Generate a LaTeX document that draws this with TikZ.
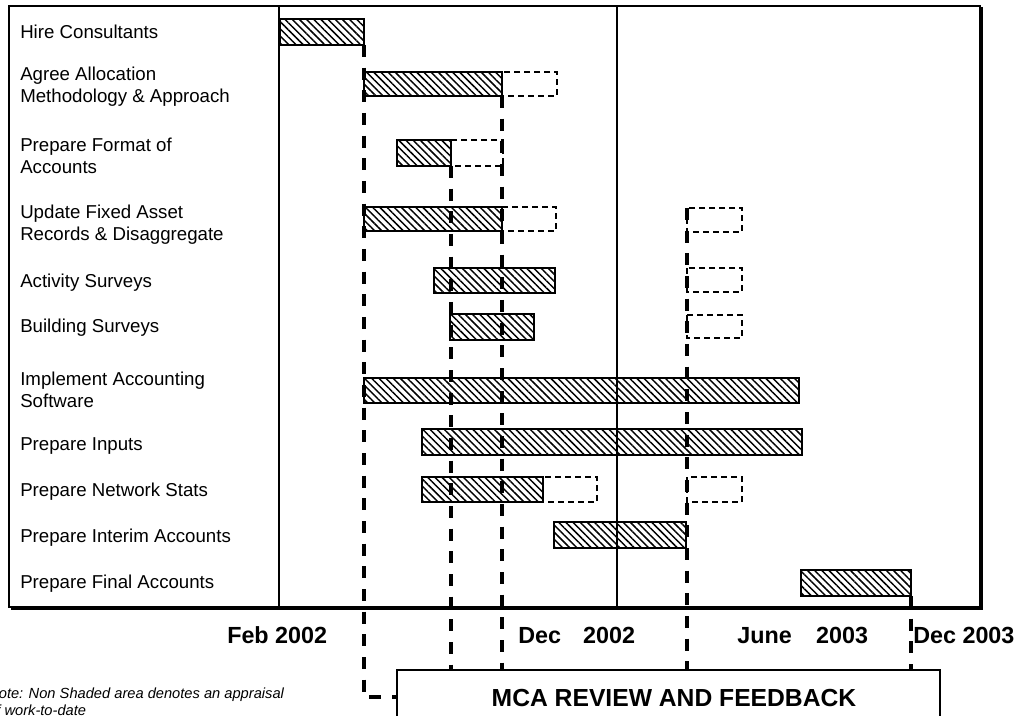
\documentclass[tikz,border=0pt]{standalone}
\usepackage{fontspec}
\setmainfont{Liberation Sans}
\usetikzlibrary{patterns.meta}
\begin{document}
\begin{tikzpicture}[x=0.75pt,y=-0.75pt,
  hatch/.style={draw=black, line width=0.9pt, pattern={Lines[angle=-45,distance=3.8pt,line width=1.1pt]}},
  plan/.style={draw=black, line width=1.4pt, dash pattern=on 4.5pt off 3pt},
  link/.style={draw=black, line width=3pt, dash pattern=on 9pt off 8pt},
  task/.style={anchor=west, align=left, inner sep=0pt, font=\fontsize{14}{16.5}\selectfont},
  axislabel/.style={anchor=west, inner sep=0pt, font=\bfseries\fontsize{17.5}{20}\selectfont},
  frameline/.style={draw=black, line width=1.5pt},
  notetext/.style={anchor=west, align=left, inner sep=0pt, font=\itshape\fontsize{11}{12.75}\selectfont}]
\useasboundingbox (0,0) rectangle (1020,716);
\clip (0,0) rectangle (1020,716);
\fill[white] (0,0) rectangle (1020,716);

% frame
\draw[frameline] (9,6) rectangle (980,607);
\draw[line width=1.5pt] (981.5,7.5) -- (981.5,608.5) -- (10.5,608.5);
\draw[frameline] (279,6) -- (279,607);
\draw[frameline] (617,6) -- (617,607);

% task labels
\node[task] (t1) at (20,32) {Hire Consultants};
\node[task] (t2) at (20,87) {Agree Allocation\\Methodology \& Approach};
\node[task] (t3) at (20,156) {Prepare Format of\\Accounts};
\node[task] (t4) at (20,225) {Update Fixed Asset\\Records \& Disaggregate};
\node[task] (t5) at (20,283) {Activity Surveys};
\node[task] (t6) at (20,328) {Building Surveys};
\node[task] (t7) at (20,390) {Implement Accounting\\Software};
\node[task] (t8) at (20,446) {Prepare Inputs};
\node[task] (t9) at (20,492) {Prepare Network Stats};
\node[task] (t10) at (20,538) {Prepare Interim Accounts};
\node[task] (t11) at (20,584) {Prepare Final Accounts};

% planned (non shaded) extensions
\draw[plan] (502,72) rectangle (557,96);
\draw[plan] (451,140) rectangle (503,166);
\draw[plan] (502,207) rectangle (556,231);
\draw[plan] (687,208) rectangle (742,232);
\draw[plan] (687,268) rectangle (742,292);
\draw[plan] (687,315) rectangle (742,338);
\draw[plan] (543,477) rectangle (597,502);
\draw[plan] (687,477) rectangle (742,502);

% hatched bars
\path[hatch] (280,19) rectangle (364,45);
\path[hatch] (364,72) rectangle (502,96);
\path[hatch] (397,140) rectangle (451,166);
\path[hatch] (364,207) rectangle (502,231);
\path[hatch] (434,268) rectangle (555,293);
\path[hatch] (450,314) rectangle (534,340);
\path[hatch] (364,378) rectangle (799,403);
\path[hatch] (422,429) rectangle (802,455);
\path[hatch] (422,477) rectangle (543,502);
\path[hatch] (554,522) rectangle (686,548);
\path[hatch] (801,570) rectangle (911,596);

% connector end points
\coordinate (s1) at (364,45);
\coordinate (s2) at (451,166);
\coordinate (s3) at (502,96);
\coordinate (s4) at (687,208);
\coordinate (s5) at (911,596);
\coordinate (corner) at (364,697);
\coordinate (e0) at (397,697);
\coordinate (e2) at (451,670);
\coordinate (e3) at (502,670);
\coordinate (e4) at (687,670);
\coordinate (e5) at (911,670);

% review box
\draw[line width=1.2pt] (397,760) -- (397,670) -- (940,670) -- (940,760);
\node[inner sep=0pt, font=\bfseries\fontsize{18.5}{22}\selectfont] (mca) at (674,698) {MCA REVIEW AND FEEDBACK};

% dashed milestone lines
\draw[link] (s1) -- (corner) -- (e0);
\draw[link] (s2) -- (e2);
\draw[link] (s3) -- (e3);
\draw[link] (s4) -- (e4);
\draw[link] (s5) -- (e5);

% axis labels
\node[axislabel] (a1) at (227,635) {Feb 2002};
\node[axislabel] (a2) at (518,635) {Dec\hspace{0.95em}2002};
\node[axislabel] (a3) at (737,635) {June\hspace{1.05em}2003};
\node[axislabel] (a4) at (913,635) {Dec 2003};

% note
\node[notetext] (note) at (-12,702) {Note: Non Shaded area denotes an appraisal\\of work-to-date};
\end{tikzpicture}
\end{document}
